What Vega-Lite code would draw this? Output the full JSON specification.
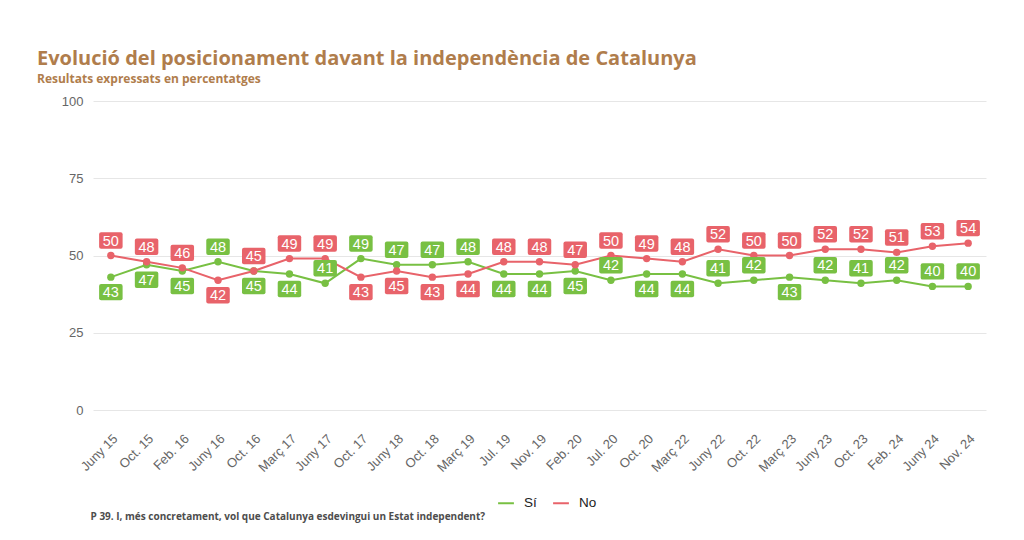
{
  "$schema": "https://vega.github.io/schema/vega-lite/v6.json",
  "width": 893,
  "height": 309,
  "padding": {"left": 37, "top": 49, "right": 20, "bottom": 10},
  "background": "white",
  "title": {
    "text": "Evolució del posicionament davant la independència de Catalunya",
    "subtitle": "Resultats expressats en percentatges",
    "anchor": "start",
    "frame": "bounds",
    "font": "Open Sans",
    "fontSize": 20,
    "fontWeight": "bold",
    "color": "#b07d4c",
    "subtitleFont": "Open Sans",
    "subtitleFontSize": 12,
    "subtitleFontWeight": "bold",
    "subtitleColor": "#b07d4c",
    "subtitlePadding": 5,
    "offset": 10
  },
  "data": {
    "values": [
      {"periode": "Juny 15", "Sí": 43, "No": 50},
      {"periode": "Oct. 15", "Sí": 47, "No": 48},
      {"periode": "Feb. 16", "Sí": 45, "No": 46},
      {"periode": "Juny 16", "Sí": 48, "No": 42},
      {"periode": "Oct. 16", "Sí": 45, "No": 45},
      {"periode": "Març 17", "Sí": 44, "No": 49},
      {"periode": "Juny 17", "Sí": 41, "No": 49},
      {"periode": "Oct. 17", "Sí": 49, "No": 43},
      {"periode": "Juny 18", "Sí": 47, "No": 45},
      {"periode": "Oct. 18", "Sí": 47, "No": 43},
      {"periode": "Març 19", "Sí": 48, "No": 44},
      {"periode": "Jul. 19", "Sí": 44, "No": 48},
      {"periode": "Nov. 19", "Sí": 44, "No": 48},
      {"periode": "Feb. 20", "Sí": 45, "No": 47},
      {"periode": "Jul. 20", "Sí": 42, "No": 50},
      {"periode": "Oct. 20", "Sí": 44, "No": 49},
      {"periode": "Març 22", "Sí": 44, "No": 48},
      {"periode": "Juny 22", "Sí": 41, "No": 52},
      {"periode": "Oct. 22", "Sí": 42, "No": 50},
      {"periode": "Març 23", "Sí": 43, "No": 50},
      {"periode": "Juny 23", "Sí": 42, "No": 52},
      {"periode": "Oct. 23", "Sí": 41, "No": 52},
      {"periode": "Feb. 24", "Sí": 42, "No": 51},
      {"periode": "Juny 24", "Sí": 40, "No": 53},
      {"periode": "Nov. 24", "Sí": 40, "No": 54}
    ]
  },
  "transform": [
    {"fold": ["Sí", "No"], "as": ["serie", "valor"]},
    {"calculate": "datum.serie === 'Sí' ? datum['No'] : datum['Sí']", "as": "altre"},
    {"calculate": "((datum.serie === 'No' ? datum.valor >= datum.altre : datum.valor > datum.altre) || (datum.altre - datum.valor >= 8)) ? 'above' : 'below'", "as": "pos"}
  ],
  "encoding": {
    "x": {
      "field": "periode",
      "type": "ordinal",
      "sort": ["Juny 15","Oct. 15","Feb. 16","Juny 16","Oct. 16","Març 17","Juny 17","Oct. 17","Juny 18","Oct. 18","Març 19","Jul. 19","Nov. 19","Feb. 20","Jul. 20","Oct. 20","Març 22","Juny 22","Oct. 22","Març 23","Juny 23","Oct. 23","Feb. 24","Juny 24","Nov. 24"],
      "scale": {"type": "point", "padding": 0.5},
      "axis": {
        "title": "P 39. I, més concretament, vol que Catalunya esdevingui un Estat independent?",
        "titleFont": "Open Sans",
        "titleFontSize": 10,
        "titleFontWeight": "bold",
        "titleColor": "#4d4d4d",
        "titleAlign": "left",
        "titleBaseline": "middle",
        "titleX": -3,
        "titleY": 106,
        "labelAngle": -45,
        "labelFont": "Liberation Sans",
        "labelFontSize": 13,
        "labelColor": "#666666",
        "labelPadding": 22,
        "ticks": false,
        "domain": false,
        "grid": false
      }
    },
    "y": {
      "field": "valor",
      "type": "quantitative",
      "scale": {"domain": [0, 100], "nice": false},
      "axis": {
        "title": null,
        "values": [0, 25, 50, 75, 100],
        "labelFont": "Liberation Sans",
        "labelFontSize": 13,
        "labelColor": "#666666",
        "labelPadding": 10,
        "ticks": false,
        "tickSize": 0,
        "domain": false,
        "grid": true,
        "gridColor": "#e6e6e6",
        "gridWidth": 1,
        "minExtent": 56,
        "maxExtent": 56
      }
    },
    "color": {
      "field": "serie",
      "type": "nominal",
      "scale": {"domain": ["Sí", "No"], "range": ["#78c043", "#e8636a"]},
      "legend": {
        "title": null,
        "orient": "none",
        "legendX": 404,
        "legendY": 393,
        "direction": "horizontal",
        "symbolType": "stroke",
        "symbolStrokeWidth": 2,
        "symbolSize": 250,
        "labelFont": "Liberation Sans",
        "labelFontSize": 13.5,
        "labelColor": "#222222",
        "labelOffset": 9,
        "columnPadding": 12
      }
    }
  },
  "layer": [
    {"mark": {"type": "line", "strokeWidth": 2}},
    {"mark": {"type": "point", "filled": true, "opacity": 1, "size": 55, "shape": "circle"}},
    {
      "transform": [{"filter": "datum.pos === 'above'"}],
      "layer": [
        {"mark": {"type": "point", "filled": true, "opacity": 1, "size": 552, "yOffset": -15, "shape": "M -0.83 -0.7 L 0.83 -0.7 Q 1 -0.7 1 -0.53 L 1 0.53 Q 1 0.7 0.83 0.7 L -0.83 0.7 Q -1 0.7 -1 0.53 L -1 -0.53 Q -1 -0.7 -0.83 -0.7 Z"}},
        {"mark": {"type": "text", "color": "white", "font": "Liberation Sans", "fontSize": 14.5, "baseline": "middle", "align": "center", "dy": -14}, "encoding": {"text": {"field": "valor", "type": "quantitative"}, "color": {"value": "white"}}}
      ]
    },
    {
      "transform": [{"filter": "datum.pos === 'below'"}],
      "layer": [
        {"mark": {"type": "point", "filled": true, "opacity": 1, "size": 552, "yOffset": 15, "shape": "M -0.83 -0.7 L 0.83 -0.7 Q 1 -0.7 1 -0.53 L 1 0.53 Q 1 0.7 0.83 0.7 L -0.83 0.7 Q -1 0.7 -1 0.53 L -1 -0.53 Q -1 -0.7 -0.83 -0.7 Z"}},
        {"mark": {"type": "text", "color": "white", "font": "Liberation Sans", "fontSize": 14.5, "baseline": "middle", "align": "center", "dy": 16}, "encoding": {"text": {"field": "valor", "type": "quantitative"}, "color": {"value": "white"}}}
      ]
    }
  ],
  "config": {"view": {"stroke": null}}
}
